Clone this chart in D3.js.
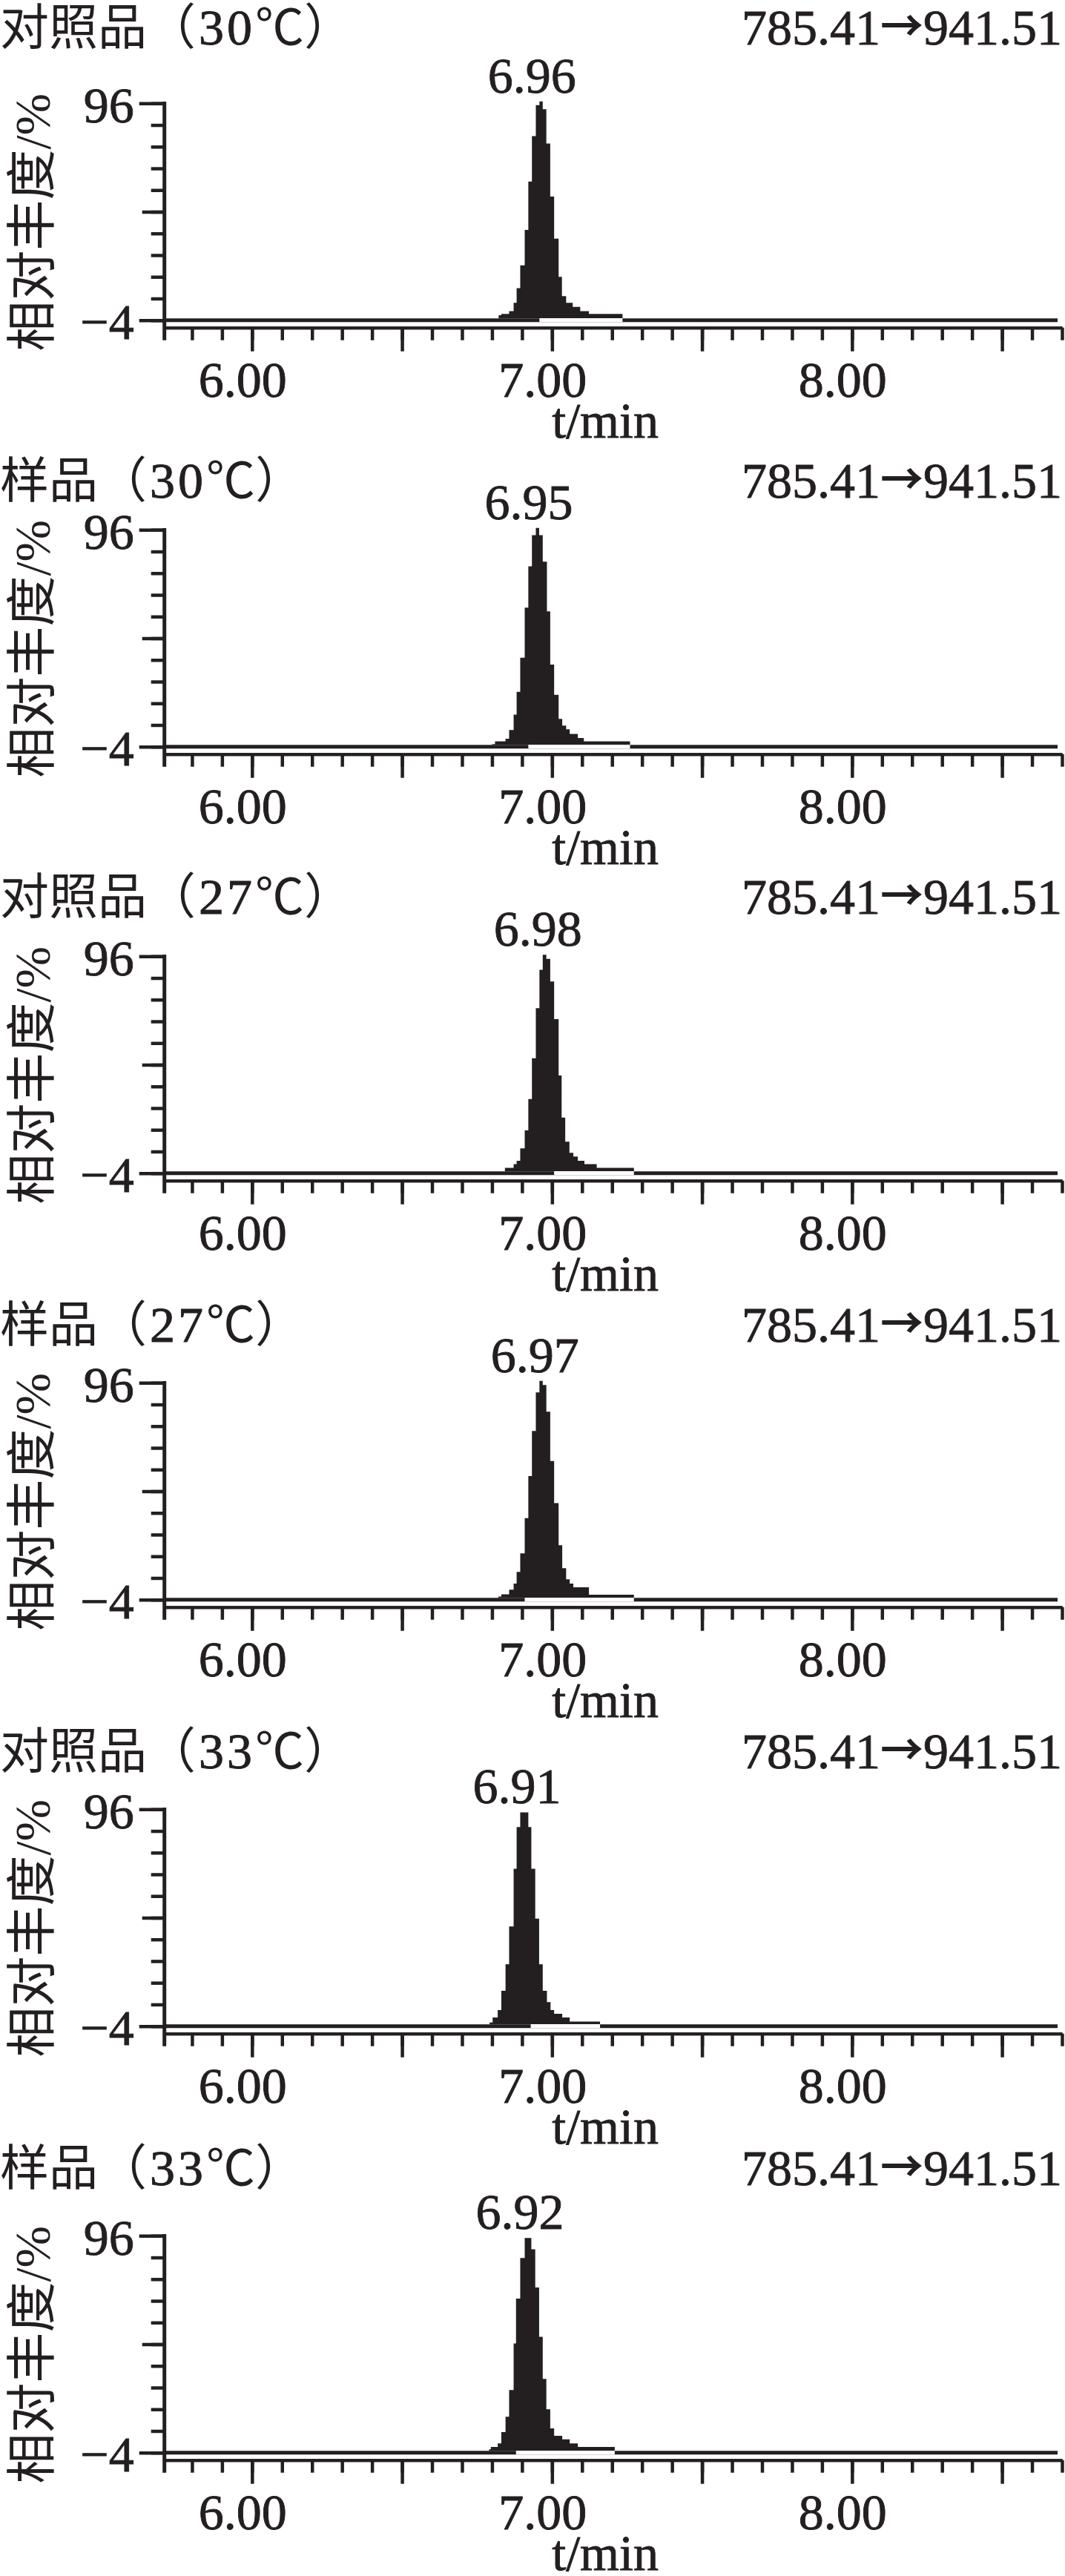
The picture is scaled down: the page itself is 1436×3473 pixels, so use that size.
<!DOCTYPE html>
<html><head><meta charset="utf-8">
<script src="https://cdn.jsdelivr.net/npm/d3@7"></script>
<style>
html,body{margin:0;padding:0;background:#fff;}
svg{display:block;}
</style></head>
<body>
<script>
// ---------------- data ----------------
const panelNames = ["对照品", "样品", "对照品", "样品", "对照品", "样品"];
const panelTemps = ["30", "30", "27", "27", "33", "33"];
const transitionFrom = "785.41";
const transitionTo = "941.51";
const peakLabels = ["6.96", "6.95", "6.98", "6.97", "6.91", "6.92"];
const yTickValues = [96, 46, -4];
const yTickLabels = ["96", "", "−4"];
const xTickValues = [6, 7, 8];
const xTickLabels = ["6.00", "7.00", "8.00"];
const xAxisTitle = "t/min";
const yAxisTitle = "相对丰度/%";
const xDomain = [5.708, 8.70];
const yDomain = [-4, 96];

const t1 = [5.708, 6.822, 6.831, 6.857, 6.872, 6.882, 6.894, 6.909, 6.921, 6.933, 6.946, 6.958, 6.969, 6.981, 6.994, 7.007, 7.022, 7.033, 7.047, 7.069, 7.094, 7.123, 7.235, 8.70];
const v1 = [-4, -1.7, -1.1, 0.2, 4.0, 10.8, 21.3, 37.6, 59.9, 80.9, 95.2, 96.9, 93.3, 77.5, 53.0, 33.6, 16.0, 7.1, 4.0, 2.1, 0.2, -1.1, -4, -4];

const t2 = [5.708, 6.800, 6.810, 6.845, 6.857, 6.872, 6.882, 6.894, 6.909, 6.921, 6.933, 6.946, 6.957, 6.969, 6.983, 6.994, 7.007, 7.022, 7.034, 7.047, 7.059, 7.086, 7.106, 7.260, 8.70];
const v2 = [-4, -2.8, -1.5, -0.3, 3.7, 10.8, 21.3, 37.0, 60.1, 79.2, 93.5, 96.9, 93.5, 81.3, 58.4, 33.9, 19.9, 8.8, 5.7, 4.0, 1.9, 0.0, -1.5, -4, -4];

const t3 = [5.708, 6.843, 6.872, 6.882, 6.894, 6.909, 6.921, 6.933, 6.946, 6.958, 6.969, 6.981, 6.994, 7.007, 7.022, 7.032, 7.044, 7.058, 7.071, 7.086, 7.108, 7.149, 7.273, 8.70];
const v3 = [-4, -1.5, 0.2, 1.7, 7.4, 15.7, 30.2, 49.0, 72.1, 89.8, 96.7, 94.8, 84.4, 67.0, 41.0, 21.6, 10.5, 5.4, 3.7, 1.7, 0.2, -1.5, -4, -4];

const t4 = [5.708, 6.821, 6.831, 6.857, 6.872, 6.882, 6.894, 6.909, 6.921, 6.933, 6.946, 6.958, 6.969, 6.981, 6.994, 7.007, 7.022, 7.034, 7.047, 7.059, 7.071, 7.123, 7.273, 8.70];
const v4 = [-4, -2.6, -1.5, 0.6, 3.4, 8.8, 17.4, 33.6, 53.0, 73.8, 91.6, 96.9, 95.0, 82.7, 59.9, 40.5, 21.1, 10.5, 5.4, 3.4, 1.7, -1.7, -4, -4];

const t5 = [5.708, 6.792, 6.802, 6.819, 6.831, 6.845, 6.857, 6.872, 6.882, 6.894, 6.921, 6.931, 6.944, 6.957, 6.969, 6.983, 6.995, 7.007, 7.034, 7.059, 7.160, 8.70];
const v5 = [-4, -2.3, 0.0, 3.4, 12.3, 24.5, 42.0, 68.6, 87.8, 94.6, 87.8, 68.6, 45.6, 24.5, 12.3, 7.1, 3.4, 1.7, 0.0, -1.9, -4, -4];

const t6 = [5.708, 6.790, 6.796, 6.819, 6.831, 6.845, 6.857, 6.872, 6.880, 6.894, 6.909, 6.931, 6.944, 6.957, 6.969, 6.981, 6.994, 7.007, 7.034, 7.059, 7.086, 7.209, 8.70];
const v6 = [-4, -2.5, -1.4, 0.3, 5.5, 12.6, 24.9, 46.3, 67.0, 85.8, 95.0, 89.8, 72.2, 49.4, 30.0, 16.0, 7.2, 3.8, 2.1, 0.3, -1.4, -4, -4];

// time where the trace baseline under the peak tail is broken
const baselineBreak = [6.958, 6.921, 7.007, 6.909, 6.929, 6.880];

const seriesT = [t1, t2, t3, t4, t5, t6];
const seriesV = [v1, v2, v3, v4, v5, v6];

// ---------------- layout ----------------
const W = 1436, H = 3473;
const ink = "#231f20";
const serif = "'Liberation Serif','Times New Roman',serif";
const mixed = "'Liberation Serif','Noto Sans CJK SC',sans-serif";
const cjk = "'Noto Sans CJK SC',sans-serif";
const FS = 68;
const firstBase = 431.7, pitch = 575, plotH = 292.4;
const titleOffset = [-372, -336, -350, -348, -348, -361];

const svg = d3.select("body").append("svg").attr("width", W).attr("height", H)
  .style("background", "#fff");

const x = d3.scaleLinear().domain(xDomain).range([221.7, 1432]);
const x0 = x.range()[0];

function heavy(sel) { return sel.attr("stroke", ink).attr("stroke-width", 0.9).attr("paint-order", "stroke"); }

seriesT.forEach((ts, i) => {
  const B = firstBase + i * pitch;
  const y = d3.scaleLinear().domain(yDomain).range([B, B - plotH]);
  const g = svg.append("g");
  const pts = ts.map((t, j) => ({t, v: seriesV[i][j]}));
  const yb = y(yDomain[0]);

  // peak fill
  g.append("path").datum(pts)
    .attr("d", d3.area().curve(d3.curveStepAfter)
      .x(d => x(d.t)).y0(yb - 2.5).y1(d => Math.min(y(d.v), yb - 2.5)))
    .attr("fill", ink);

  // baseline of trace
  g.append("line").attr("x1", x0).attr("x2", x(xDomain[1]) - 6)
    .attr("y1", yb).attr("y2", yb).attr("stroke", ink).attr("stroke-width", 5);

  // break of baseline under tail
  let last = 0;
  pts.forEach((p, j) => { if (p.v > yDomain[0]) last = j; });
  const tailEnd = pts[last + 1].t;
  g.append("line").attr("x1", x(baselineBreak[i])).attr("x2", x(tailEnd))
    .attr("y1", yb).attr("y2", yb).attr("stroke", "#fff").attr("stroke-width", 5.2);

  // y axis
  const yMinor = d3.axisLeft(y).tickValues(d3.range(-4, 97, 10)).tickSize(18).tickFormat("");
  const yMid = d3.axisLeft(y).tickValues([46]).tickSize(30).tickFormat("");
  const yMajor = d3.axisLeft(y).tickValues([96, -4]).tickSize(34).tickPadding(7)
    .tickFormat(d => yTickLabels[yTickValues.indexOf(d)]);
  [yMinor, yMid, yMajor].forEach(ax => {
    const a = g.append("g").attr("transform", `translate(${x0},0)`).call(ax);
    a.select(".domain").remove();
    a.selectAll("line").attr("stroke", ink).attr("stroke-width", 4.5);
    a.selectAll("text").filter(function() { return !this.textContent; }).remove();
    heavy(a.selectAll("text").attr("font-family", serif).attr("font-size", FS)
      .attr("fill", ink).attr("dy", "0.37em"));
  });
  g.append("line").attr("x1", x0).attr("x2", x0)
    .attr("y1", y(96) - 2.2).attr("y2", B + 27)
    .attr("stroke", ink).attr("stroke-width", 5);

  // x axis
  const xg = B + 10;
  const minorVals = d3.range(58, 88).map(d => d / 10).filter(d => d <= xDomain[1] + 1e-9);
  const xMinor = d3.axisBottom(x).tickValues(minorVals).tickSize(17).tickSizeOuter(0).tickFormat("");
  const xMajor = d3.axisBottom(x).tickValues(d3.range(6, 8.6, 0.5)).tickSize(32).tickSizeOuter(0)
    .tickPadding(12.7)
    .tickFormat(d => { const k = xTickValues.indexOf(d); return k >= 0 ? xTickLabels[k] : ""; });
  [xMinor, xMajor].forEach(ax => {
    const a = g.append("g").attr("transform", `translate(0,${xg})`).call(ax);
    a.select(".domain").attr("stroke", ink).attr("stroke-width", 4);
    a.selectAll("line").attr("stroke", ink).attr("stroke-width", 4.5);
    a.selectAll("text").filter(function() { return !this.textContent; }).remove();
    heavy(a.selectAll("text").attr("font-family", serif).attr("font-size", FS)
      .attr("fill", ink).attr("dx", -13));
  });

  // x axis title
  heavy(g.append("text").attr("x", x(7)).attr("y", B + 158)
    .attr("font-family", serif).attr("font-size", FS).attr("fill", ink)
    .text(xAxisTitle));

  // y axis title
  g.append("text").attr("transform", `translate(67,${B - 132}) rotate(-90)`)
    .attr("text-anchor", "middle").attr("font-family", mixed).attr("font-size", FS)
    .attr("fill", ink).text(yAxisTitle);

  // peak label
  const apex = pts.reduce((a, b) => b.v > a.v ? b : a);
  heavy(g.append("text").attr("x", x(+peakLabels[i])).attr("dx", -11).attr("y", y(apex.v) - 12)
    .attr("text-anchor", "middle").attr("font-family", serif).attr("font-size", FS)
    .attr("fill", ink).text(peakLabels[i]));

  // titles
  const ty = B + titleOffset[i];
  const tt = g.append("text").attr("x", 0).attr("y", ty)
    .attr("font-family", cjk).attr("font-size", 66).attr("fill", ink);
  tt.append("tspan").text(panelNames[i] + "（");
  heavy(tt.append("tspan").attr("font-family", serif).attr("font-size", 68)
    .attr("letter-spacing", 4).attr("dx", 4).text(panelTemps[i]));
  tt.append("tspan").text("℃）");

  const rt = g.append("text").attr("x", 1432).attr("y", ty).attr("text-anchor", "end")
    .attr("font-family", serif).attr("font-size", FS).attr("fill", ink);
  heavy(rt.append("tspan").text(transitionFrom));
  rt.append("tspan").attr("font-family", cjk).attr("font-weight", "bold")
    .attr("font-size", 58).attr("dy", -4).text("→");
  heavy(rt.append("tspan").attr("dy", 4).text(transitionTo));
});
</script>
</body></html>
